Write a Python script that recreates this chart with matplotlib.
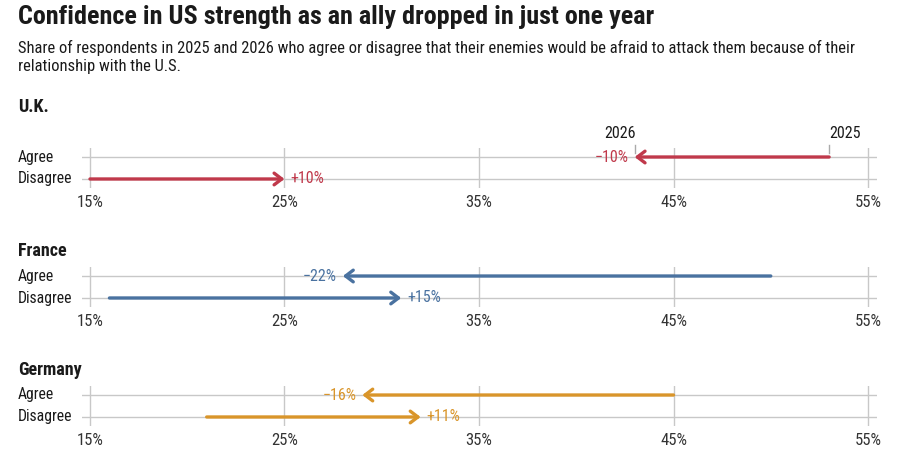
import matplotlib.pyplot as plt

plt.rcParams['font.family'] = ['DejaVu Sans Condensed', 'Roboto Condensed', 'DejaVu Sans']

countries = ['U.K.', 'France', 'Germany']
colors = ['#c0394b', '#4a72a0', '#d9952a']
# share in 2025 and 2026, per country
agree_2025 = [53, 50, 45]
agree_2026 = [43, 28, 29]
disagree_2025 = [15, 16, 21]
disagree_2026 = [25, 31, 32]
ticks = [15, 25, 35, 45, 55]
tick_labels = ['15%', '25%', '35%', '45%', '55%']

W, H = 900, 474
fig = plt.figure(figsize=(9, 4.74), dpi=100)

fig.text(18 / W, 1 - 17 / H, 'Confidence in US strength as an ally dropped in just one year',
         fontsize=18.8, fontweight='bold', va='center', ha='left', color='#1a1a1a')
fig.text(18 / W, 1 - 48 / H,
         'Share of respondents in 2025 and 2026 who agree or disagree that their enemies would be afraid to attack them because of their',
         fontsize=11.9, va='center', ha='left', color='#1a1a1a')
fig.text(18 / W, 1 - 67 / H, 'relationship with the U.S.',
         fontsize=11.9, va='center', ha='left', color='#1a1a1a')

title_y = [107, 251, 370]
ax_top = [148, 267, 386]

for i, name in enumerate(countries):
    c = colors[i]
    top = ax_top[i]
    ax = fig.add_axes([82 / W, 1 - (top + 40) / H, 795 / W, 40 / H])
    ax.set_xlim(14.59, 55.46)
    ax.set_ylim(-0.41, 1.41)
    for s in ax.spines.values():
        s.set_visible(False)
    ax.set_yticks([])
    ax.set_xticks(ticks)
    ax.set_xticklabels(tick_labels, fontsize=12, color='#333333')
    ax.tick_params(axis='x', length=0, pad=5)
    for t in ticks:
        ax.axvline(t, color='#c8c8c8', lw=1, zorder=0)
    for yy in [0, 1]:
        ax.axhline(yy, color='#c8c8c8', lw=1, zorder=0)

    fig.text(18 / W, 1 - title_y[i] / H, name, fontsize=13, fontweight='bold',
             va='center', ha='left', color='#1a1a1a')
    fig.text(18 / W, 1 - (top + 9) / H, 'Agree', fontsize=11.3, va='center', ha='left', color='#1a1a1a')
    fig.text(18 / W, 1 - (top + 31) / H, 'Disagree', fontsize=11.3, va='center', ha='left', color='#1a1a1a')

    rows = [(1, agree_2025[i], agree_2026[i]), (0, disagree_2025[i], disagree_2026[i])]
    for yy, start, end in rows:
        ax.annotate('', xy=(end, yy), xytext=(start, yy),
                    arrowprops=dict(arrowstyle='->,head_length=0.55,head_width=0.42',
                                    lw=2.4, color=c, shrinkA=0, shrinkB=0))
        diff = end - start
        if diff < 0:
            ax.text(end - 0.3, yy, f'\u2212{abs(diff)}%', color=c, fontsize=11.5,
                    ha='right', va='center')
        else:
            ax.text(end + 0.3, yy, f'+{diff}%', color=c, fontsize=11.5,
                    ha='left', va='center')

    if i == 0:
        for x, lab in [(agree_2026[0], '2026'), (agree_2025[0], '2025')]:
            ax.plot([x, x], [1.2, 1.55], color='#aaaaaa', lw=1, clip_on=False)
            if lab == '2026':
                ax.text(x + 0.05, 1.75, lab, fontsize=11.5, ha='right', va='bottom', color='#1a1a1a')
            else:
                ax.text(x, 1.75, lab, fontsize=11.5, ha='left', va='bottom', color='#1a1a1a')

fig.savefig('out.png', dpi=100)
